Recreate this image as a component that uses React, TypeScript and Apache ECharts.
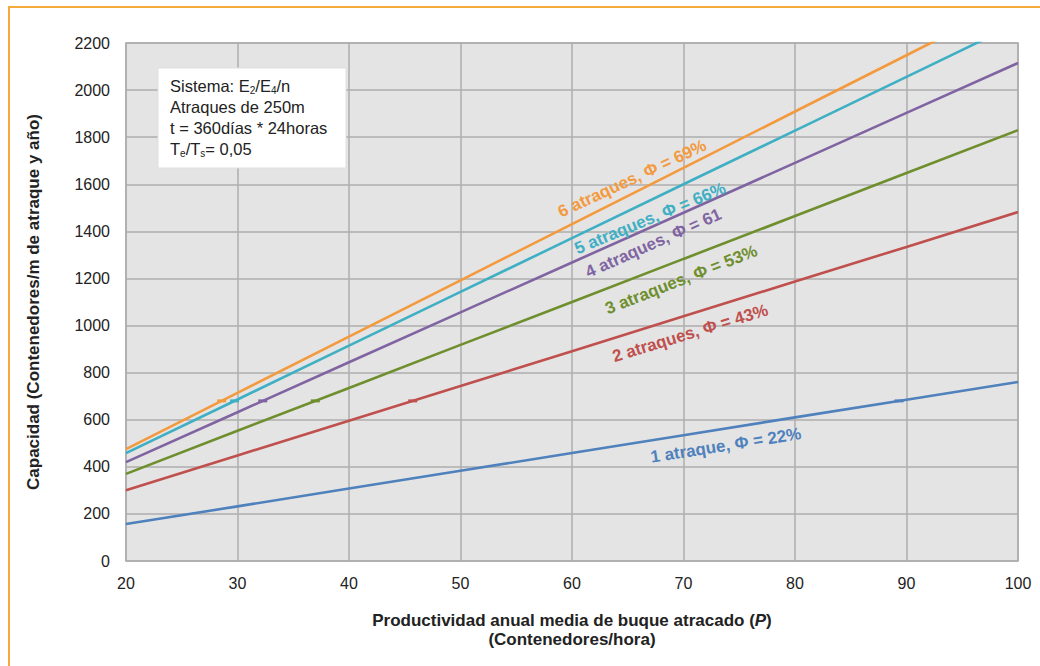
import React, { useEffect, useRef } from "react";
import * as echarts from "echarts";

const xValues = [20, 30, 40, 50, 60, 70, 80, 90, 100];
const seriesNames = [
  "1 atraque",
  "2 atraques",
  "3 atraques",
  "4 atraques",
  "5 atraques",
  "6 atraques",
];
const berth1 = [157, 232, 308, 383, 459, 534, 610, 685, 760];
const berth2 = [300, 448, 596, 743, 891, 1039, 1187, 1334, 1482];
const berth3 = [370, 553, 735, 918, 1100, 1283, 1465, 1648, 1830];
const berth4 = [420, 632, 844, 1056, 1268, 1479, 1691, 1903, 2115];
const berth5 = [458, 686, 915, 1143, 1371, 1600, 1828, 2056, 2285];
const berth6 = [475, 714, 953, 1192, 1431, 1670, 1909, 2148, 2387];
const seriesValues = [berth1, berth2, berth3, berth4, berth5, berth6];
const lineLabels = [
  "1 atraque, Φ = 22%",
  "2 atraques, Φ = 43%",
  "3 atraques, Φ = 53%",
  "4 atraques, Φ = 61",
  "5 atraques, Φ = 66%",
  "6 atraques, Φ = 69%",
];
const markerLevel = 680;
const legendLines = [
  "Sistema: E{s|2}/E{s|4}/n",
  "Atraques de 250m",
  "t = 360días * 24horas",
  "T{s|e}/T{s|s}= 0,05",
];

const colors = ["#4F81BD", "#C0504D", "#6F8F2E", "#8064A2", "#3FAFC4", "#F39A3F"];
// label centre x (data units), vertical px offset from the line there, text angle (deg)
const labelCfg = [
  { x: 73.8, dy: 17, deg: 9 },
  { x: 70.6, dy: 19, deg: 17 },
  { x: 69.8, dy: 20, deg: 21.5 },
  { x: 67.3, dy: 17, deg: 24 },
  { x: 67.0, dy: 18, deg: 22.5 },
  { x: 65.4, dy: -15, deg: 25 },
];

const FONT = "'Liberation Sans', Arial, Helvetica, sans-serif";

function yAt(arr: number[], x: number): number {
  for (let i = 0; i < xValues.length - 1; i++) {
    if (x >= xValues[i] && x <= xValues[i + 1]) {
      const t = (x - xValues[i]) / (xValues[i + 1] - xValues[i]);
      return arr[i] + t * (arr[i + 1] - arr[i]);
    }
  }
  return arr[arr.length - 1];
}
function xAt(arr: number[], y: number): number {
  for (let i = 0; i < arr.length - 1; i++) {
    if (y >= arr[i] && y <= arr[i + 1]) {
      const t = (y - arr[i]) / (arr[i + 1] - arr[i]);
      return xValues[i] + t * (xValues[i + 1] - xValues[i]);
    }
  }
  return xValues[0];
}

export default function App() {
  const ref = useRef<HTMLDivElement>(null);
  useEffect(() => {
    document.body.style.margin = "0";
    const chart = echarts.init(ref.current!, null, { renderer: "svg" });
    const series = seriesValues.map((vals, i) => ({
      name: seriesNames[i],
      type: "line",
      data: xValues.map((x, j) => [x, vals[j]]),
      showSymbol: false,
      symbol: "none",
      clip: true,
      lineStyle: { color: colors[i], width: 2.6 },
      itemStyle: { color: colors[i] },
      markPoint: {
        silent: true,
        data: [
          {
            coord: [xAt(vals, markerLevel), markerLevel],
            symbol: "rect",
            symbolSize: [9, 3],
            itemStyle: { color: colors[i] },
            label: { show: false },
          },
        ],
      },
    }));

    const baseGraphics: any[] = [
      {
        type: "rect",
        shape: { x: 9, y: 7, width: 1100, height: 700 },
        style: { fill: "none", stroke: "#F5AA3C", lineWidth: 2 },
        silent: true,
        z: 100,
      },
      {
        type: "rect",
        shape: { x: 158, y: 68, width: 188, height: 100 },
        style: { fill: "#FFFFFF", stroke: "#E0E0E0", lineWidth: 1 },
        z: 50,
      },
      ...legendLines.map((t, i) => ({
        type: "text",
        x: 170,
        y: 86 + i * 21,
        z: 51,
        style: {
          text: t,
          fill: "#222",
          fontSize: 16.5,
          fontFamily: FONT,
          verticalAlign: "middle",
          rich: {
            s: { fontSize: 10, fontFamily: FONT, fill: "#222", verticalAlign: "bottom", padding: [9, 0, 0, 0] },
          },
        },
      })),
      {
        type: "text",
        x: 572,
        y: 620,
        style: {
          text: "{b|Productividad anual media de buque atracado (}{i|P}{b|)}",
          align: "center",
          verticalAlign: "middle",
          rich: {
            b: { fontSize: 17, fontWeight: "bold", fontFamily: FONT, fill: "#222" },
            i: { fontSize: 17, fontWeight: "bold", fontStyle: "italic", fontFamily: FONT, fill: "#222" },
          },
        },
      },
      {
        type: "text",
        x: 572,
        y: 639,
        style: {
          text: "(Contenedores/hora)",
          align: "center",
          verticalAlign: "middle",
          fill: "#222",
          fontSize: 17,
          fontWeight: "bold",
          fontFamily: FONT,
        },
      },
    ];

    const option = {
      animation: false,
      textStyle: { fontFamily: FONT },
      grid: {
        left: 126,
        right: 22,
        top: 43,
        bottom: 105,
        show: true,
        backgroundColor: "#E4E4E4",
        borderColor: "#A8A8A8",
        borderWidth: 1.5,
      },
      xAxis: {
        type: "value",
        min: 20,
        max: 100,
        interval: 10,
        axisLine: { show: false },
        axisTick: { show: false },
        axisLabel: { color: "#222", fontSize: 16, margin: 14, fontFamily: FONT },
        splitLine: { show: true, lineStyle: { color: "#AEAEAE", width: 1.5 } },
      },
      yAxis: {
        type: "value",
        min: 0,
        max: 2200,
        interval: 200,
        axisLine: { show: false },
        axisTick: { show: false },
        axisLabel: {
          color: "#222",
          fontSize: 16,
          margin: 16,
          fontFamily: FONT,
          formatter: (v: number) => String(v),
        },
        splitLine: { show: true, lineStyle: { color: "#AEAEAE", width: 1.5 } },
        name: "Capacidad (Contenedores/m de atraque y año)",
        nameLocation: "middle",
        nameGap: 84,
        nameTextStyle: { color: "#222", fontSize: 17, fontWeight: "bold", fontFamily: FONT },
      },
      series,
      graphic: baseGraphics,
    };
    chart.setOption(option as any);

    // line labels placed next to each line, using the chart's own coordinate conversion
    const labelGraphics = seriesValues.map((vals, i) => {
      const cfg = labelCfg[i];
      const p = chart.convertToPixel({ gridIndex: 0 }, [cfg.x, yAt(vals, cfg.x)]) as number[];
      return {
        type: "text",
        x: p[0],
        y: p[1] + cfg.dy,
        rotation: (cfg.deg * Math.PI) / 180,
        z: 60,
        style: {
          text: lineLabels[i],
          fill: colors[i],
          fontSize: 17,
          fontWeight: "bold",
          fontFamily: FONT,
          align: "center",
          verticalAlign: "middle",
        },
      };
    });
    chart.setOption({ graphic: [...baseGraphics, ...labelGraphics] } as any);
    return () => chart.dispose();
  }, []);
  return <div ref={ref} style={{ width: 1040, height: 666, background: "#fff" }} />;
}
